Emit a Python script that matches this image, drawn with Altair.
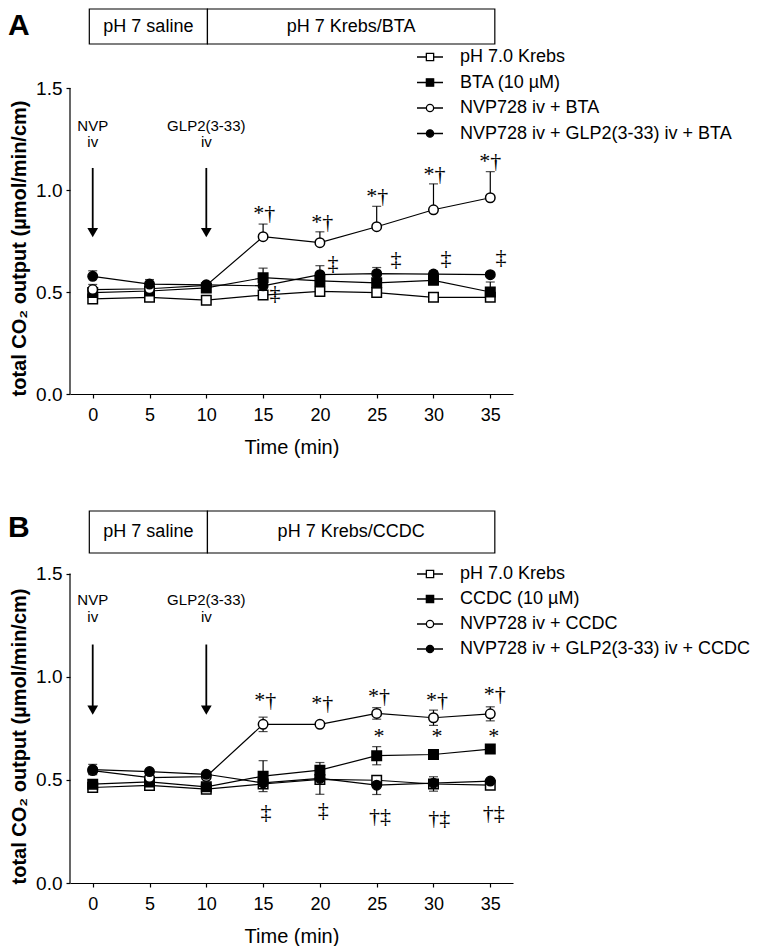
import altair as alt
import pandas as pd

# ---------------- data ----------------
times = [0, 5, 10, 15, 20, 25, 30, 35]

# Panel A
series_A = ["pH 7.0 Krebs", "BTA (10 µM)", "NVP728 iv + BTA",
            "NVP728 iv + GLP2(3-33) iv + BTA"]
krebs_A = [0.466, 0.474, 0.460, 0.485, 0.503, 0.497, 0.474, 0.474]
bta_A = [0.497, 0.505, 0.520, 0.570, 0.555, 0.545, 0.557, 0.500]
nvp_A = [0.512, 0.516, 0.532, 0.771, 0.742, 0.820, 0.903, 0.962]
glp_A = [0.577, 0.539, 0.535, 0.530, 0.585, 0.590, 0.588, 0.585]
krebs_A_sem = [0.008, 0.008, 0.008, 0.008, 0.008, 0.008, 0.008, 0.008]
bta_A_sem = [0.010, 0.010, 0.010, 0.047, 0.015, 0.015, 0.030, 0.049]
nvp_A_sem = [0.025, 0.010, 0.010, 0.062, 0.053, 0.100, 0.127, 0.128]
glp_A_sem = [0.027, 0.022, 0.010, 0.010, 0.044, 0.030, 0.015, 0.010]

# Panel B
series_B = ["pH 7.0 Krebs", "CCDC (10 µM)", "NVP728 iv + CCDC",
            "NVP728 iv + GLP2(3-33) iv + CCDC"]
krebs_B = [0.463, 0.473, 0.455, 0.480, 0.502, 0.498, 0.480, 0.474]
ccdc_B = [0.479, 0.490, 0.466, 0.518, 0.547, 0.617, 0.623, 0.649]
nvp_B = [0.545, 0.511, 0.516, 0.769, 0.769, 0.822, 0.801, 0.820]
glp_B = [0.550, 0.540, 0.527, 0.485, 0.507, 0.474, 0.484, 0.494]
krebs_B_sem = [0.008, 0.008, 0.008, 0.008, 0.008, 0.008, 0.035, 0.008]
ccdc_B_sem = [0.010, 0.010, 0.010, 0.075, 0.015, 0.044, 0.012, 0.008]
nvp_B_sem = [0.010, 0.010, 0.010, 0.035, 0.010, 0.028, 0.037, 0.034]
glp_B_sem = [0.025, 0.010, 0.010, 0.010, 0.077, 0.045, 0.010, 0.010]

# protocol boxes
phase_edges = [-0.3, 10.1, 35.4]
phases_A = ["pH 7 saline", "pH 7 Krebs/BTA"]
phases_B = ["pH 7 saline", "pH 7 Krebs/CCDC"]

# injection arrows
arrow_times = [0, 10]
arrow_label_1 = ["NVP", "GLP2(3-33)"]
arrow_label_2 = ["iv", "iv"]
# levels (y units): label line 1, label line 2, shaft start, arrow head
arrow_levels_A = [1.315, 1.236, 1.108, 0.791]
arrow_levels_B = [1.372, 1.288, 1.156, 0.838]

# significance marks
ann_A_text = ["*†", "*†", "*†", "*†", "*†", "‡", "‡", "‡", "‡", "‡"]
ann_A_time = [15.1, 20.2, 25.05, 30.1, 35.0, 16.05, 21.15, 26.7, 31.1, 35.95]
ann_A_level = [0.886, 0.844, 0.971, 1.08, 1.143, 0.494, 0.641, 0.663, 0.666, 0.674]

ann_B_text = ["*†", "*†", "*†", "*†", "*†", "*", "*", "*",
              "‡", "‡", "†‡", "†‡", "†‡"]
ann_B_time = [15.2, 20.2, 25.2, 30.3, 35.4, 25.2, 30.3, 35.3,
              15.25, 20.3, 25.3, 30.5, 35.3]
ann_B_level = [0.887, 0.871, 0.906, 0.885, 0.914, 0.713, 0.713, 0.713,
               0.344, 0.353, 0.323, 0.315, 0.339]

# ---------------- styling ----------------
FONT = "Liberation Sans"
SERIF = "Liberation Serif"
marker_shapes = ["square", "square", "circle", "circle"]
marker_fills = ["white", "black", "white", "black"]
legend_paths = [
    "M-1,0H-0.28M0.28,0H1M-0.28,-0.28H0.28V0.28H-0.28Z",
    "M-1,0H-0.28M0.28,0H1M-0.28,-0.28H0.28V0.28H-0.28Z",
    "M-1,0H-0.28M0.28,0H1M0.28,0A0.28,0.28,0,1,1,-0.28,0A0.28,0.28,0,1,1,0.28,0Z",
    "M-1,0H-0.28M0.28,0H1M0.28,0A0.28,0.28,0,1,1,-0.28,0A0.28,0.28,0,1,1,0.28,0Z",
]

PLOT_W = 443


def make_panel(letter, series, values, sems, phases, arrow_levels,
               ann_text, ann_time, ann_level, height, ymax, symmetric,
               legend_y, legend_gap, title_y, box_h):
    rows = []
    for name, vals, errs in zip(series, values, sems):
        for t, v, e in zip(times, vals, errs):
            rows.append({"series": name, "time": t, "value": v,
                         "lo": v - e if symmetric else v, "hi": v + e})
    df = pd.DataFrame(rows)

    xscale = alt.Scale(domain=[-2, 37], nice=False)
    yscale = alt.Scale(domain=[0, ymax], nice=False)
    xaxis = alt.Axis(values=[0, 5, 10, 15, 20, 25, 30, 35], title="Time (min)",
                     tickSize=4, labelPadding=8, labelFontSize=18,
                     titleFontSize=20, titleFontWeight="normal", titlePadding=13,
                     domainWidth=1.2, tickWidth=1.2, grid=False)
    yaxis = alt.Axis(values=[0, 0.5, 1.0, 1.5], format=".1f",
                     title="total CO₂ output (µmol/min/cm)",
                     domain=False, tickSize=4, labelPadding=4, labelFontSize=19,
                     titleFontSize=20, titleFontWeight="bold",
                     titleAngle=270, titleAlign="center", titleBaseline="middle",
                     titleX=-51, titleY=title_y, tickWidth=1.2, grid=False)

    def X(f):
        return alt.X(f, type="quantitative", scale=xscale, axis=xaxis)

    def Y(f):
        return alt.Y(f, type="quantitative", scale=yscale, axis=yaxis)

    base = alt.Chart(df)

    # protocol boxes
    ph = pd.DataFrame({"name": phases, "start": phase_edges[:-1],
                       "end": phase_edges[1:]})
    boxes = alt.Chart(ph).mark_rect(fill="white", stroke="black", strokeWidth=1.2).encode(
        x=X("start"), x2="end", y=alt.value(0), y2=alt.value(box_h))
    box_text = alt.Chart(ph).transform_calculate(
        mid="(datum.start + datum.end) / 2").mark_text(
        font=FONT, fontSize=18, color="black").encode(
        x=X("mid"), y=alt.value(box_h / 2), text="name:N")

    lines = base.mark_line(color="black", strokeWidth=1.2).encode(
        x=X("time"), y=Y("value"), detail="series:N")
    err = base.mark_rule(color="black", strokeWidth=1.2).encode(
        x=X("time"), y=Y("lo"), y2="hi")
    cap_hi = base.mark_tick(orient="horizontal", size=9, thickness=1.2,
                            color="black").encode(x=X("time"), y=Y("hi"))
    layers = [boxes, box_text, lines, err, cap_hi]
    if symmetric:
        cap_lo = base.mark_tick(orient="horizontal", size=9, thickness=1.2,
                                color="black").encode(x=X("time"), y=Y("lo"))
        layers.append(cap_lo)

    points = base.mark_point(filled=True, size=90, stroke="black",
                             strokeWidth=1.5, opacity=1).encode(
        x=X("time"), y=Y("value"),
        shape=alt.Shape("series:N", scale=alt.Scale(domain=series, range=marker_shapes),
                        legend=None),
        fill=alt.Fill("series:N", scale=alt.Scale(domain=series, range=marker_fills),
                      legend=None))
    layers.append(points)

    leg = alt.Legend(orient="none", legendX=346, legendY=legend_y, title=None,
                     labelFont=FONT, labelFontSize=18, labelColor="black",
                     labelLimit=500, labelOffset=16, symbolSize=676,
                     symbolStrokeWidth=1.3, symbolOpacity=1,
                     rowPadding=legend_gap, padding=0)
    legend_layer = base.transform_filter("false").mark_point(
        filled=False, stroke="black", strokeWidth=1.3, opacity=1).encode(
        x=X("time"), y=Y("value"),
        shape=alt.Shape("series:N", scale=alt.Scale(domain=series, range=legend_paths),
                        legend=leg),
        fill=alt.Fill("series:N", scale=alt.Scale(domain=series, range=marker_fills),
                      legend=leg))
    layers.append(legend_layer)

    an = pd.DataFrame({"text": ann_text, "time": ann_time, "level": ann_level})
    ann = alt.Chart(an).mark_text(font=SERIF, fontSize=22, color="black",
                                  baseline="middle").encode(
        x=X("time"), y=Y("level"), text="text:N")
    layers.append(ann)

    ar = pd.DataFrame({"time": arrow_times, "l1": arrow_label_1, "l2": arrow_label_2})
    ar = ar.assign(y1=arrow_levels[0], y2=arrow_levels[1],
                   ys=arrow_levels[2], yh=arrow_levels[3])
    ar_c = alt.Chart(ar)
    shaft = ar_c.mark_rule(color="black", strokeWidth=1.8).encode(
        x=X("time"), y=Y("ys"), y2="yh")
    head = ar_c.mark_point(shape="triangle-down", size=115, filled=True,
                           color="black", opacity=1).encode(x=X("time"), y=Y("yh"))
    lab1 = ar_c.mark_text(font=FONT, fontSize=15, color="black").encode(
        x=X("time"), y=Y("y1"), text="l1:N")
    lab2 = ar_c.mark_text(font=FONT, fontSize=15, color="black").encode(
        x=X("time"), y=Y("y2"), text="l2:N")
    layers += [shaft, head, lab1, lab2]

    yline = alt.Chart(pd.DataFrame({"a": [0]})).mark_rule(
        color="black", strokeWidth=1.2).encode(
        x=alt.value(0), y=alt.Y(datum=0, scale=yscale, axis=yaxis),
        y2=alt.datum(1.5))
    tag = alt.Chart(pd.DataFrame({"a": [0]})).mark_text(
        font=FONT, fontSize=30, fontWeight="bold", align="left", baseline="top",
        color="black").encode(x=alt.value(-62), y=alt.value(2), text=alt.value(letter))
    layers += [yline, tag]

    return alt.layer(*layers).resolve_scale(
        shape="independent", fill="independent").properties(
        width=PLOT_W, height=height)


panel_A = make_panel("A", series_A, [krebs_A, bta_A, nvp_A, glp_A],
                     [krebs_A_sem, bta_A_sem, nvp_A_sem, glp_A_sem],
                     phases_A, arrow_levels_A, ann_A_text, ann_A_time, ann_A_level,
                     height=385, ymax=385 / 204.0, symmetric=False,
                     legend_y=34, legend_gap=2.5, title_y=239, box_h=35)
panel_B = make_panel("B", series_B, [krebs_B, ccdc_B, nvp_B, glp_B],
                     [krebs_B_sem, ccdc_B_sem, nvp_B_sem, glp_B_sem],
                     phases_B, arrow_levels_B, ann_B_text, ann_B_time, ann_B_level,
                     height=372, ymax=372 / 206.3, symmetric=True,
                     legend_y=49, legend_gap=2, title_y=225, box_h=42)

chart = alt.vconcat(panel_A, panel_B, spacing=117, bounds="flush").resolve_scale(
    shape="independent", fill="independent").properties(
    padding=0, background="white").configure_view(strokeWidth=0).configure_axis(
    domainColor="black", tickColor="black", labelColor="black", titleColor="black",
    labelFont=FONT, titleFont=FONT)

chart.save("out.html", embed_options={"renderer": "svg", "actions": False})
